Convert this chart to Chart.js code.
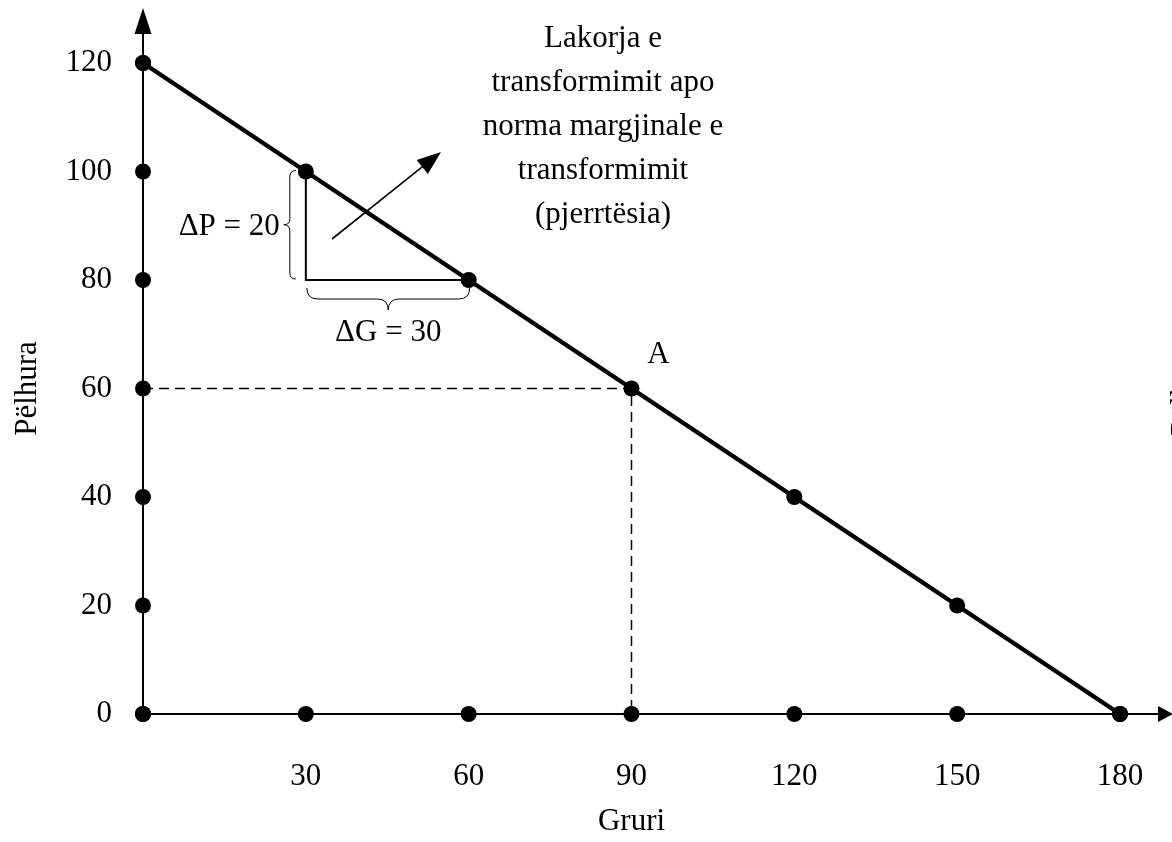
<!DOCTYPE html>
<html><head><meta charset="utf-8">
<script src="https://cdn.jsdelivr.net/npm/chart.js@4.4.1/dist/chart.umd.min.js"></script>
<style>html,body{margin:0;padding:0;background:#fff}#wrap{width:1172px;height:842px}</style>
</head><body><div id="wrap"><canvas id="c" width="1172" height="842"></canvas></div>
<script>
// ---- data ----
const gruri   = [0, 30, 60, 90, 120, 150, 180];
const pelhura = [120, 100, 80, 60, 40, 20, 0];
const yAxisDots = [0, 20, 40, 60, 80, 100, 120];
const xAxisDots = [0, 30, 60, 90, 120, 150, 180];
const pointA = [90, 60];
const slopeStart = [30, 100];
const slopeEnd = [60, 80];
const xTitle = 'Gruri';
const yTitle = 'Pëlhura';
const labelA = 'A';
const labelDP = 'ΔP = 20';
const labelDG = 'ΔG = 30';
const noteLines = ['Lakorja e', 'transformimit apo', 'norma margjinale e', 'transformimit', '(pjerrtësia)'];

const FONT = '"Liberation Serif", "Times New Roman", serif';
const FS = 31;

const lineData = gruri.map((x, i) => ({x, y: pelhura[i]}));
const yDots = yAxisDots.map(y => ({x: 0, y}));
const xDots = xAxisDots.map(x => ({x, y: 0}));
const dashData = [{x: 0, y: pointA[1]}, {x: pointA[0], y: pointA[1]}, {x: pointA[0], y: 0}];
const triData = [{x: slopeStart[0], y: slopeStart[1]}, {x: slopeStart[0], y: slopeEnd[1]}, {x: slopeEnd[0], y: slopeEnd[1]}];

function braceV(ctx, x, y1, y2, w) {
  const ym = (y1 + y2) / 2, h = w / 2;
  ctx.beginPath();
  ctx.moveTo(x, y1);
  ctx.quadraticCurveTo(x - h, y1, x - h, y1 + h);
  ctx.lineTo(x - h, ym - h);
  ctx.quadraticCurveTo(x - h, ym, x - w, ym);
  ctx.quadraticCurveTo(x - h, ym, x - h, ym + h);
  ctx.lineTo(x - h, y2 - h);
  ctx.quadraticCurveTo(x - h, y2, x, y2);
  ctx.stroke();
}
function braceH(ctx, y, x1, x2, w) {
  const xm = (x1 + x2) / 2, h = w / 2;
  ctx.beginPath();
  ctx.moveTo(x1, y);
  ctx.quadraticCurveTo(x1, y + h, x1 + h, y + h);
  ctx.lineTo(xm - h, y + h);
  ctx.quadraticCurveTo(xm, y + h, xm, y + w);
  ctx.quadraticCurveTo(xm, y + h, xm + h, y + h);
  ctx.lineTo(x2 - h, y + h);
  ctx.quadraticCurveTo(x2, y + h, x2, y);
  ctx.stroke();
}

const axesPlugin = {
  id: 'axesPlugin',
  beforeDatasetsDraw(chart) {
    const ctx = chart.ctx, xs = chart.scales.x, ys = chart.scales.y;
    const x0 = xs.getPixelForValue(0), y0 = ys.getPixelForValue(0);
    ctx.save();
    ctx.strokeStyle = '#000'; ctx.fillStyle = '#000'; ctx.lineWidth = 2;
    // x axis
    ctx.beginPath(); ctx.moveTo(x0, y0); ctx.lineTo(1162, y0); ctx.stroke();
    ctx.beginPath(); ctx.moveTo(1173, y0); ctx.lineTo(1158, y0 - 8); ctx.lineTo(1158, y0 + 8); ctx.closePath(); ctx.fill();
    // y axis
    ctx.beginPath(); ctx.moveTo(x0, y0); ctx.lineTo(x0, 30); ctx.stroke();
    ctx.beginPath(); ctx.moveTo(x0, 8); ctx.lineTo(x0 - 8.5, 34); ctx.lineTo(x0 + 8.5, 34); ctx.closePath(); ctx.fill();
    ctx.restore();
  },
  afterDraw(chart) {
    const ctx = chart.ctx, xs = chart.scales.x, ys = chart.scales.y, ca = chart.chartArea;
    const px = v => xs.getPixelForValue(v), py = v => ys.getPixelForValue(v);
    ctx.save();
    ctx.fillStyle = '#000'; ctx.strokeStyle = '#000';
    ctx.font = FS + 'px ' + FONT;
    // axis titles
    ctx.textAlign = 'center'; ctx.textBaseline = 'middle';
    ctx.fillText(xTitle, (ca.left + ca.right) / 2, 822);
    ctx.save(); ctx.translate(28, (ca.top + ca.bottom) / 2); ctx.rotate(-Math.PI / 2);
    ctx.fillText(yTitle, 0, 0); ctx.restore();
    // clipped title of neighbouring figure at right edge
    ctx.save(); ctx.translate(1192, (ca.top + ca.bottom) / 2); ctx.rotate(-Math.PI / 2);
    ctx.textBaseline = 'alphabetic'; ctx.fillText(yTitle, 0, 0); ctx.restore();
    // label A
    ctx.fillText(labelA, px(pointA[0]) + 27, py(pointA[1]) - 34);
    // braces
    ctx.lineWidth = 1;
    const bx = px(slopeStart[0]);
    braceV(ctx, bx - 10, py(slopeStart[1]) - 1, py(slopeEnd[1]) - 1, 12);
    braceH(ctx, py(slopeEnd[1]) + 8, px(slopeStart[0]) + 1, px(slopeEnd[0]) + 1, 22);
    ctx.textAlign = 'right';
    ctx.fillText(labelDP, bx - 26, (py(slopeStart[1]) + py(slopeEnd[1])) / 2 + 1);
    ctx.textAlign = 'center';
    ctx.fillText(labelDG, (px(slopeStart[0]) + px(slopeEnd[0])) / 2 + 1, py(slopeEnd[1]) + 53);
    // arrow
    const ax1 = 332, ay1 = 239, ax2 = 441, ay2 = 152;
    const ang = Math.atan2(ay2 - ay1, ax2 - ax1);
    ctx.lineWidth = 1.6;
    ctx.beginPath(); ctx.moveTo(ax1, ay1);
    ctx.lineTo(ax2 - 18 * Math.cos(ang), ay2 - 18 * Math.sin(ang)); ctx.stroke();
    ctx.beginPath(); ctx.moveTo(ax2, ay2);
    ctx.lineTo(ax2 - 24 * Math.cos(ang) + 9 * Math.sin(ang), ay2 - 24 * Math.sin(ang) - 9 * Math.cos(ang));
    ctx.lineTo(ax2 - 24 * Math.cos(ang) - 9 * Math.sin(ang), ay2 - 24 * Math.sin(ang) + 9 * Math.cos(ang));
    ctx.closePath(); ctx.fill();
    // note
    ctx.textAlign = 'center'; ctx.textBaseline = 'middle';
    noteLines.forEach((t, i) => ctx.fillText(t, 603, 39 + i * 44));
    ctx.restore();
  }
};

new Chart(document.getElementById('c'), {
  type: 'scatter',
  data: {
    datasets: [
      {data: yDots, showLine: false, pointRadius: 8, pointBackgroundColor: '#000', pointBorderWidth: 0, clip: false, order: 0},
      {data: xDots, showLine: false, pointRadius: 8, pointBackgroundColor: '#000', pointBorderWidth: 0, clip: false, order: 0},
      {data: lineData, showLine: true, borderColor: '#000', borderWidth: 4.5, pointRadius: 8, pointBackgroundColor: '#000', pointBorderWidth: 0, clip: false, order: 1},
      {data: dashData, showLine: true, borderColor: '#000', borderWidth: 1.5, borderDash: [10, 6], pointRadius: 0, clip: false, order: 2},
      {data: triData, showLine: true, borderColor: '#000', borderWidth: 2, pointRadius: 0, clip: false, order: 2}
    ]
  },
  options: {
    responsive: false, animation: false, devicePixelRatio: 1,
    layout: {padding: {left: 0, right: 52, top: 63, bottom: 0}},
    plugins: {legend: {display: false}, tooltip: {enabled: false}},
    scales: {
      x: {
        type: 'linear', min: 0, max: 180,
        grid: {display: false, drawTicks: false}, border: {display: false},
        afterFit(s) { s.height = 128; s.paddingRight = 0; },
        afterBuildTicks(s) { s.ticks = xAxisDots.filter(v => v > 0).map(v => ({value: v})); },
        ticks: {color: '#000', font: {family: FONT, size: FS}, padding: 44, maxRotation: 0}
      },
      y: {
        type: 'linear', min: 0, max: 120,
        grid: {display: false, drawTicks: false}, border: {display: false},
        afterFit(s) { s.width = 143; },
        afterBuildTicks(s) { s.ticks = yAxisDots.map(v => ({value: v})); },
        ticks: {color: '#000', font: {family: FONT, size: FS}, padding: 31}
      }
    }
  },
  plugins: [axesPlugin]
});
</script></body></html>
